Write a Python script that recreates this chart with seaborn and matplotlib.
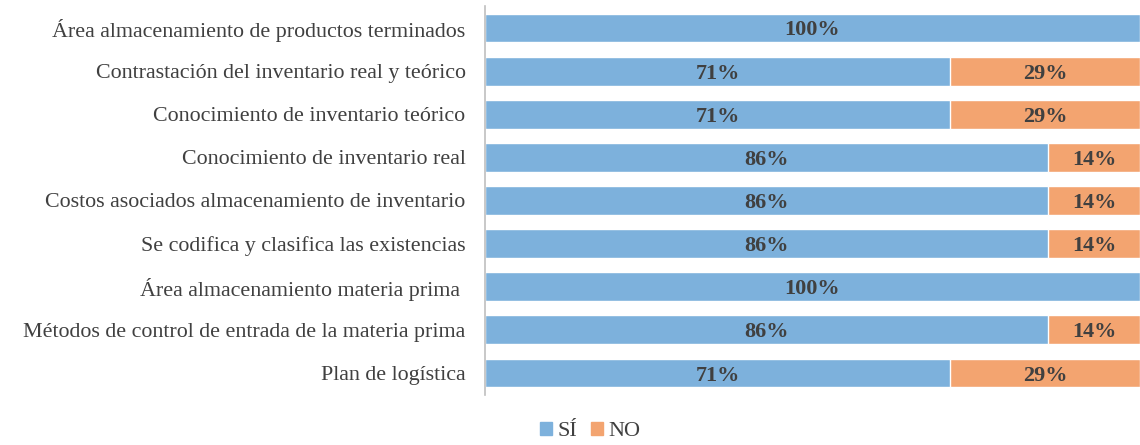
import pandas as pd
import matplotlib
matplotlib.use("Agg")
import matplotlib.pyplot as plt
import seaborn as sns
from matplotlib.patches import Patch

# datos (de arriba hacia abajo)
categorias = [
    "Área almacenamiento de productos terminados",
    "Contrastación del inventario real y teórico",
    "Conocimiento de inventario teórico",
    "Conocimiento de inventario real",
    "Costos asociados almacenamiento de inventario",
    "Se codifica y clasifica las existencias",
    "Área almacenamiento materia prima ",
    "Métodos de control de entrada de la materia prima",
    "Plan de logística",
]
si = [100, 71, 71, 86, 86, 86, 100, 86, 71]
no = [0, 29, 29, 14, 14, 14, 0, 14, 29]

azul = "#7DB1DC"
naranja = "#F3A470"
texto = "#404040"

df = pd.DataFrame({"cat": categorias, "si": si, "no": no})
df["total"] = df["si"] + df["no"]

sns.set_style("white")
plt.rcParams["font.family"] = ["Liberation Serif", "DejaVu Serif"]

fig = plt.figure(figsize=(11.4, 4.45), dpi=100)
ax = fig.add_axes([0.4254, 0.1133, 0.5746, 0.8723])

# barra total (naranja) y encima la parte SÍ (azul)
sns.barplot(data=df, y="cat", x="total", color=naranja, orient="h",
            width=0.67, saturation=1, ax=ax)
sns.barplot(data=df, y="cat", x="si", color=azul, orient="h",
            width=0.67, saturation=1, ax=ax)

for i, (s, n) in enumerate(zip(si, no)):
    ax.text(s / 2, i, f"{s}%", ha="center", va="center_baseline",
            fontsize=16, fontweight="bold", color=texto)
    if n > 0:
        ax.text(s + n / 2, i, f"{n}%", ha="center", va="center_baseline",
                fontsize=16, fontweight="bold", color=texto)

ax.set_xlim(0, 100)
ax.set_ylim(8.5, -0.5)
ax.set_xlabel("")
ax.set_ylabel("")
ax.set_xticks([])
ax.tick_params(axis="y", length=0, pad=14, labelsize=15.8, labelcolor=texto)
for lado in ["top", "right", "bottom"]:
    ax.spines[lado].set_visible(False)
ax.spines["left"].set_color("#BFBFBF")
ax.spines["left"].set_linewidth(1.2)

handles = [Patch(color=azul, label="SÍ"), Patch(color=naranja, label="NO")]
fig.legend(handles=handles, loc="center", bbox_to_anchor=(0.518, 0.03),
           ncol=2, frameon=False, fontsize=16, handlelength=0.55,
           handleheight=0.55, handletextpad=0.25, columnspacing=0.6,
           labelcolor=texto)

fig.savefig("out.png", dpi=100)
